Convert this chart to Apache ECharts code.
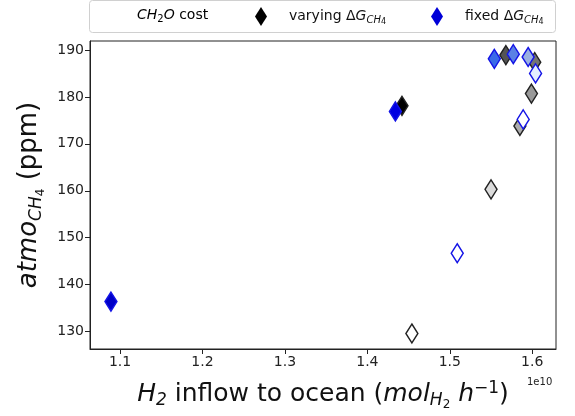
<!DOCTYPE html>
<html>
<head>
<meta charset="utf-8">
<script src="https://cdn.jsdelivr.net/npm/echarts@6/dist/echarts.min.js"></script>
<style>
  html, body { margin: 0; padding: 0; background: #fff; }
  #chart { width: 575px; height: 416px; }
</style>
</head>
<body>
<div id="chart"></div>
<script>
// H2 inflow (mol/h), atmospheric CH4 (ppm), CH2O cost shade (0 = dark, 1 = white)
var varyingX = [1.442e10, 1.568e10, 1.603e10, 1.599e10, 1.585e10, 1.550e10, 1.454e10];
var varyingY = [178.1, 188.9, 187.4, 180.7, 173.8, 160.3, 129.6];
var varyingCost = [0, 0.33, 0.45, 0.6, 0.68, 0.86, 1];

var fixedX = [1.089e10, 1.434e10, 1.554e10, 1.577e10, 1.595e10, 1.604e10, 1.589e10, 1.509e10];
var fixedY = [136.4, 176.9, 188.1, 189.1, 188.5, 185.0, 175.2, 146.7];
var fixedCost = [0, 0.05, 0.3, 0.4, 0.6, 0.85, 1, 1];

var xTicks = [1.1e10, 1.2e10, 1.3e10, 1.4e10, 1.5e10, 1.6e10];
var yTicks = [130, 140, 150, 160, 170, 180, 190];

function lerpColor(stops, t) {
  for (var i = 1; i < stops.length; i++) {
    if (t <= stops[i][0]) {
      var a = stops[i - 1], b = stops[i];
      var f = (t - a[0]) / (b[0] - a[0]);
      var c = [0, 1, 2].map(function(k) {
        return Math.round(a[1][k] + (b[1][k] - a[1][k]) * f);
      });
      return 'rgb(' + c.join(',') + ')';
    }
  }
  var l = stops[stops.length - 1][1];
  return 'rgb(' + l.join(',') + ')';
}
var grayStops = [[0, [0, 0, 0]], [1, [255, 255, 255]]];
var blueStops = [[0, [0, 0, 200]], [0.05, [0, 0, 225]], [0.3, [58, 106, 232]],
  [0.6, [154, 176, 224]], [0.85, [228, 238, 255]], [1, [255, 255, 255]]];

function pts(xs, ys, cs) {
  return xs.map(function(x, i) { return [x, ys[i], cs[i]]; });
}

var chart = echarts.init(document.getElementById('chart'));
var font = 'DejaVu Sans';

var subRich = {
  n: { fontSize: 14, fontFamily: font, color: '#111' },
  i: { fontSize: 14, fontFamily: font, fontStyle: 'italic', color: '#111' },
  s: { fontSize: 10, fontFamily: font, fontStyle: 'italic', color: '#111', padding: [8, 0, 0, 0] },
  ss: { fontSize: 8, fontFamily: font, color: '#111', padding: [11, 0, 0, 0] },
  s2: { fontSize: 10, fontFamily: font, color: '#111', padding: [8, 0, 0, 0] }
};

var option = {
  animation: false,
  grid: {
    left: 90, right: 19, top: 41, bottom: 67,
    outerBoundsMode: 'none', containLabel: false,
    show: true, borderColor: '#222', borderWidth: 1
  },
  legend: {
    left: 250,
    top: 2,
    itemWidth: 12,
    itemHeight: 19,
    itemGap: 45,
    data: [
      { name: 'varying', icon: 'diamond', itemStyle: { color: '#000', borderWidth: 0, opacity: 1 } },
      { name: 'fixed', icon: 'diamond', itemStyle: { color: '#0000d8', borderWidth: 0, opacity: 1 } }
    ],
    formatter: function(n) {
      return '{n|' + n + ' Δ}{i|G}{s|CH}{ss|4}';
    },
    textStyle: { padding: [0, 0, 0, 17], rich: subRich }
  },
  graphic: [
    {
      type: 'rect', left: 89, top: 0, z: -1,
      shape: { width: 466, height: 32, r: 3 },
      style: { fill: '#fff', stroke: '#d0d0d0', lineWidth: 1 }
    },
    {
      type: 'text', left: 137, top: 8,
      style: {
        text: '{i|CH}{s2|2}{i|O}{n| cost}',
        rich: subRich
      }
    },
    {
      type: 'text', left: 527, top: 377,
      style: { text: '1e10', fontSize: 10, fontFamily: font, fill: '#222' }
    }
  ],
  xAxis: {
    type: 'value',
    min: 1.0636e10,
    max: 1.6288e10,
    splitLine: { show: false },
    axisLine: { lineStyle: { color: '#222' } },
    axisTick: { show: true, customValues: xTicks, length: 5, lineStyle: { color: '#222' } },
    axisLabel: {
      customValues: xTicks,
      fontSize: 14, fontFamily: font, color: '#222', margin: 6,
      formatter: function(v) { return (v / 1e10).toFixed(1); }
    },
    name: '{i|H}{s|2}{n| inflow to ocean (}{i|mol}{s|H}{ss|2}{i| h}{sup|−1}{n|)}',
    nameLocation: 'middle',
    nameGap: 28,
    nameTextStyle: {
      rich: {
        n: { fontSize: 25, fontFamily: font, color: '#111' },
        i: { fontSize: 25, fontFamily: font, fontStyle: 'italic', color: '#111' },
        s: { fontSize: 17, fontFamily: font, fontStyle: 'italic', color: '#111', padding: [14, 0, 0, 0] },
        ss: { fontSize: 12, fontFamily: font, color: '#111', padding: [22, 0, 0, 0] },
        sup: { fontSize: 17, fontFamily: font, color: '#111', padding: [0, 0, 11, 0] }
      }
    }
  },
  yAxis: {
    type: 'value',
    min: 126.3,
    max: 191.9,
    splitLine: { show: false },
    axisLine: { show: true, lineStyle: { color: '#222' } },
    axisTick: { show: true, customValues: yTicks, length: 5, lineStyle: { color: '#222' } },
    axisLabel: {
      customValues: yTicks,
      fontSize: 14, fontFamily: font, color: '#222', margin: 6
    },
    name: '{i|atmo}{s|CH}{ss|4}{n| (ppm)}',
    nameLocation: 'middle',
    nameRotate: 90,
    nameGap: 43,
    nameTextStyle: {
      rich: {
        n: { fontSize: 26, fontFamily: font, color: '#111' },
        i: { fontSize: 26, fontFamily: font, fontStyle: 'italic', color: '#111' },
        s: { fontSize: 17, fontFamily: font, fontStyle: 'italic', color: '#111', padding: [14, 0, 0, 0] },
        ss: { fontSize: 12, fontFamily: font, color: '#111', padding: [22, 0, 0, 0] }
      }
    }
  },
  series: [
    {
      name: 'varying',
      type: 'scatter',
      symbol: 'diamond',
      symbolSize: [12, 19],
      data: pts(varyingX, varyingY, varyingCost),
      itemStyle: {
        color: function(p) { return lerpColor(grayStops, p.value[2]); },
        borderColor: '#222',
        borderWidth: 1.5,
        opacity: 1
      }
    },
    {
      name: 'fixed',
      type: 'scatter',
      symbol: 'diamond',
      symbolSize: [12, 19],
      data: pts(fixedX, fixedY, fixedCost),
      itemStyle: {
        color: function(p) { return lerpColor(blueStops, p.value[2]); },
        borderColor: '#1414e6',
        borderWidth: 1.5,
        opacity: 1
      }
    }
  ]
};

chart.setOption(option);
</script>
</body>
</html>
